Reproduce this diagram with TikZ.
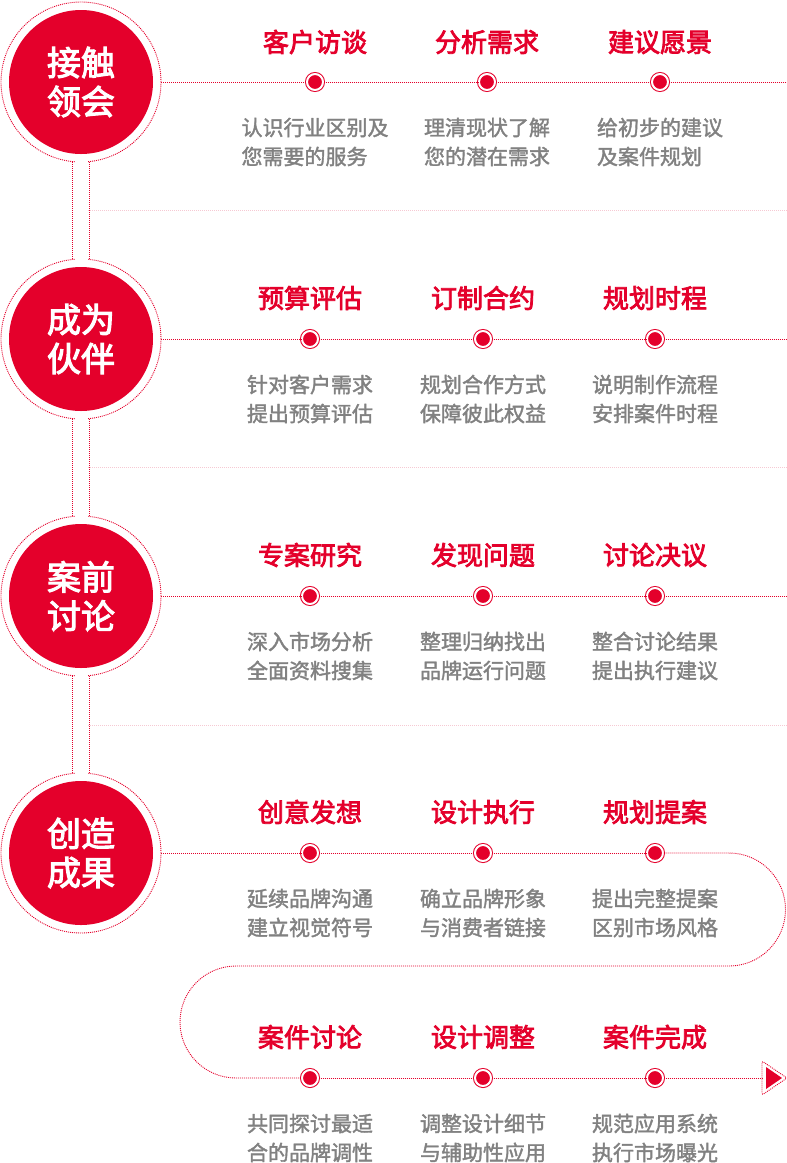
\documentclass[tikz,border=0pt]{standalone}
\usepackage{fontspec}
\setmainfont{Noto Sans CJK SC}
\newfontfamily\headfont{Noto Sans CJK SC}[FakeBold=3]
\newfontfamily\notefont{Noto Sans CJK SC}[FakeBold=1.8]
\definecolor{brand}{HTML}{E4002B}
\definecolor{note}{HTML}{818181}
\definecolor{rule}{HTML}{F6C9D3}

\begin{document}
\begin{tikzpicture}[x=1pt,y=-1pt,
	dots/.style={draw=brand,line width=0.9pt,dash pattern=on 1pt off 1pt},
	sep/.style={draw=rule,line width=1pt,dash pattern=on 1pt off 1pt},
	ring/.style={circle,dots,minimum size=160pt,inner sep=0},
	stage/.style={circle,fill=brand,minimum size=144pt,inner sep=0,text=white,align=center,font=\fontsize{34}{39}\selectfont\headfont},
	stop/.style={circle,fill=brand,draw=brand,line width=1pt,double=white,double distance=2pt,minimum size=16pt,inner sep=0},
	title/.style={text=brand,font=\fontsize{26}{30}\selectfont\headfont},
	note/.style={text=note,align=left,font=\fontsize{21}{29}\selectfont\notefont}]
	\useasboundingbox (0,0) rectangle (787,1163);
	% stages
	\node[ring] (r1) at (81,82) {};
	\node[ring] (r2) at (81,339) {};
	\node[ring] (r3) at (81,596) {};
	\node[ring] (r4) at (81,853) {};
	\fill[white] (74.5,158) rectangle (87.5,163);
	\fill[white] (74.5,415) rectangle (87.5,420);
	\fill[white] (74.5,672) rectangle (87.5,677);
	\fill[white] (74.5,255) rectangle (87.5,260);
	\fill[white] (74.5,512) rectangle (87.5,517);
	\fill[white] (74.5,769) rectangle (87.5,774);
	\draw[dots] (r1.264) -- (r2.96) (r1.276) -- (r2.84);
	\draw[dots] (r2.264) -- (r3.96) (r2.276) -- (r3.84);
	\draw[dots] (r3.264) -- (r4.96) (r3.276) -- (r4.84);
	\node[stage] (s1) at (81,82) {接触\\领会};
	\node[stage] (s2) at (81,339) {成为\\伙伴};
	\node[stage] (s3) at (81,596) {案前\\讨论};
	\node[stage] (s4) at (81,853) {创造\\成果};
	\draw[sep] (88,210) -- (787,210);
	\draw[sep] (88,467) -- (787,467);
	\draw[sep] (88,725) -- (787,725);

	% row 1
	\node[stop] (m11) at (315,82) {};
	\node[stop] (m12) at (487,82) {};
	\node[stop] (m13) at (660,82) {};
	\coordinate (e1) at (787,82);
	\draw[dots] (r1) -- (m11) (m11) -- (m12) (m12) -- (m13) (m13) -- (e1);
	\node[title] (t11) at (315,42) {客户访谈};
	\node[title] (t12) at (487,42) {分析需求};
	\node[title] (t13) at (660,42) {建议愿景};
	\node[note] (d11) at (315,142) {认识行业区别及\\您需要的服务};
	\node[note] (d12) at (487,142) {理清现状了解\\您的潜在需求};
	\node[note] (d13) at (660,142) {给初步的建议\\及案件规划\phantom{规}};

	% row 2
	\node[stop] (m21) at (310,339) {};
	\node[stop] (m22) at (483,339) {};
	\node[stop] (m23) at (655,339) {};
	\coordinate (e2) at (787,339);
	\draw[dots] (r2) -- (m21) (m21) -- (m22) (m22) -- (m23) (m23) -- (e2);
	\node[title] (t21) at (310,298) {预算评估};
	\node[title] (t22) at (483,298) {订制合约};
	\node[title] (t23) at (655,298) {规划时程};
	\node[note] (d21) at (310,399) {针对客户需求\\提出预算评估};
	\node[note] (d22) at (483,399) {规划合作方式\\保障彼此权益};
	\node[note] (d23) at (655,399) {说明制作流程\\安排案件时程};

	% row 3
	\node[stop] (m31) at (310,596) {};
	\node[stop] (m32) at (483,596) {};
	\node[stop] (m33) at (655,596) {};
	\coordinate (e3) at (787,596);
	\draw[dots] (r3) -- (m31) (m31) -- (m32) (m32) -- (m33) (m33) -- (e3);
	\node[title] (t31) at (310,555) {专案研究};
	\node[title] (t32) at (483,555) {发现问题};
	\node[title] (t33) at (655,555) {讨论决议};
	\node[note] (d31) at (310,656) {深入市场分析\\全面资料搜集};
	\node[note] (d32) at (483,656) {整理归纳找出\\品牌运行问题};
	\node[note] (d33) at (655,656) {整合讨论结果\\提出执行建议};

	% row 4 and 5
	\node[stop] (m41) at (310,853) {};
	\node[stop] (m42) at (483,853) {};
	\node[stop] (m43) at (655,853) {};
	\node[stop] (m51) at (310,1078) {};
	\node[stop] (m52) at (483,1078) {};
	\node[stop] (m53) at (655,1078) {};
	\coordinate (a1) at (729,853);
	\coordinate (b1) at (236,966);
	\coordinate (arr) at (762,1078);
	\draw[dots] (r4) -- (m41) (m41) -- (m42) (m42) -- (m43);
	\draw[dots] (m43) -- (a1) arc[start angle=-90,end angle=90,radius=56.5] -- (b1) arc[start angle=-90,end angle=-270,radius=56] -- (m51);
	\draw[dots] (m51) -- (m52) (m52) -- (m53) (m53) -- (arr);
	\draw[dots,rounded corners=2pt] (762,1061) -- (787,1078) -- (762,1095) -- cycle;
	\fill[brand] (766,1067) -- (782,1078) -- (766,1089) -- cycle;
	\node[title] (t41) at (310,812) {创意发想};
	\node[title] (t42) at (483,812) {设计执行};
	\node[title] (t43) at (655,812) {规划提案};
	\node[note] (d41) at (310,913) {延续品牌沟通\\建立视觉符号};
	\node[note] (d42) at (483,913) {确立品牌形象\\与消费者链接};
	\node[note] (d43) at (655,913) {提出完整提案\\区别市场风格};
	\node[title] (t51) at (310,1037) {案件讨论};
	\node[title] (t52) at (483,1037) {设计调整};
	\node[title] (t53) at (655,1037) {案件完成};
	\node[note] (d51) at (310,1138) {共同探讨最适\\合的品牌调性};
	\node[note] (d52) at (483,1138) {调整设计细节\\与辅助性应用};
	\node[note] (d53) at (655,1138) {规范应用系统\\执行市场曝光};
\end{tikzpicture}
\end{document}
